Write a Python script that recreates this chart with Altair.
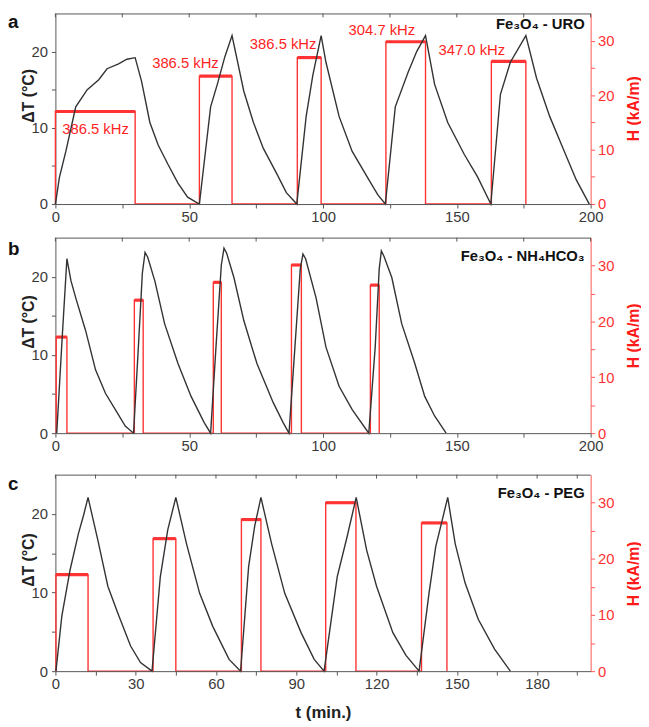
import altair as alt
import pandas as pd

FONT = "Liberation Sans"
GREY = "#555555"
LBL = "#3a3a3a"
RED = "#ff3333"
DARK = "#333333"

# ---------------- Panel a : Fe3O4 - URO ----------------
a_t = [0, 1.5, 3.9, 7.6, 11.9, 16.2, 19.3, 23.6, 26.7, 29.8, 32.2, 35.3, 38.4, 42.0, 45.8, 49.4, 53.8,
       58.0, 60.5, 63.3, 66.0, 70.4, 74.0, 77.7, 82.7, 86.3, 90.2,
       93.7, 96.2, 99.3, 101.1, 106.0, 110.9, 117.1, 120.5, 123.3,
       127.0, 131.8, 135.0, 138.3, 141.7, 146.6, 152.8, 157.7, 162.7,
       166.3, 170.0, 175.8, 179.8, 184.7, 189.7, 194.6, 199.5]
a_dT = [0, 3.5, 6.9, 12.75, 15.0, 16.3, 17.75, 18.4, 19.0, 19.2, 16.1, 10.7, 7.75, 5.25, 2.75, 0.9, 0,
        12.75, 15.7, 19.3, 22.1, 14.8, 10.7, 7.3, 4.0, 1.5, 0,
        11.5, 16.9, 22.1, 18.6, 11.5, 6.9, 3.2, 1.2, 0,
        12.75, 17.3, 20.0, 22.1, 15.7, 10.7, 6.5, 3.6, 0,
        14.4, 18.6, 22.1, 16.5, 11.5, 7.3, 3.2, 0]
a_on = [0, 53.8, 90.4, 123.5, 162.9]
a_off = [29.8, 66.0, 99.3, 138.3, 175.8]
a_H = [17.0, 23.5, 26.9, 29.8, 26.2]
a_freq = ["386.5 kHz", "386.5 kHz", "386.5 kHz", "304.7 kHz", "347.0 kHz"]
a_freq_t = [15.0, 48.6, 85.1, 122.0, 155.6]
a_freq_H = [13.8, 25.9, 29.3, 31.9, 28.2]

# ---------------- Panel b : Fe3O4 - NH4HCO3 ----------------
b_t = [0.5, 2.5, 4.3, 5.8, 7.6, 11.3, 15.0, 18.7, 22.4, 26.1, 29.2,
       31.0, 32.5, 33.5, 34.5, 37.2, 40.8, 45.8, 50.7, 55.6, 58.0,
       60.0, 62.0, 63.0, 64.0, 66.7, 70.4, 75.3, 81.4, 85.1, 87.3,
       89.5, 91.5, 92.5, 93.5, 97.4, 101.1, 106.0, 110.9, 117.1,
       119.5, 121.0, 121.8, 122.8, 125.7, 129.4, 134.3, 138.0, 141.7, 146.0]
b_dT = [0, 12, 22.3, 19.5, 17.3, 13.1, 8.1, 5.1, 3.0, 0.9, 0,
        11, 20.5, 23.1, 22.5, 19.4, 14.0, 8.9, 4.7, 1.35, 0,
        11, 21.5, 23.65, 23.0, 19.9, 14.4, 8.9, 3.9, 1.35, 0,
        11, 21, 22.9, 22.3, 17.3, 11.0, 6.0, 3.0, 0,
        11, 21, 23.3, 22.6, 19.9, 14.0, 8.9, 4.7, 2.2, 0]
b_on = [0.3, 29.5, 59.0, 88.2, 117.7]
b_off = [4.3, 32.8, 62.0, 91.9, 121.0]
b_H = [17.2, 23.8, 27.0, 30.1, 26.5]

# ---------------- Panel c : Fe3O4 - PEG ----------------
c_t = [0.2, 2.4, 5.5, 8.6, 10.5, 12.2, 15.9, 19.6, 23.3, 28.1, 31.8, 36.1,
       39.2, 42.0, 45.0, 49.0, 53.9, 58.8, 64.9, 69.2,
       72.2, 74.5, 76.8, 80.8, 85.7, 91.8, 96.7, 100.4,
       105.3, 109.0, 112.4, 116.3, 120.0, 126.1, 131.0, 135.9,
       139.6, 142.1, 146.6, 149.4, 153.1, 158.0, 164.1, 170.0]
c_dT = [0, 7, 12.9, 17.5, 19.8, 22.1, 16.6, 10.8, 7.4, 3.2, 1.1, 0,
        12, 18, 22.1, 16.2, 9.9, 5.7, 1.5, 0,
        13.3, 18.5, 22.1, 16.2, 9.9, 4.9, 1.5, 0,
        12, 17.1, 22.1, 15.4, 10.8, 4.9, 2.0, 0,
        9.9, 15.8, 22.1, 16.2, 11.2, 6.6, 2.8, 0]
c_on = [0.2, 36.5, 69.5, 101.0, 136.8]
c_off = [12.2, 45.0, 76.8, 112.3, 146.3]
c_H = [17.2, 23.6, 27.0, 30.0, 26.4]

titles = ["Fe\u2083O\u2084 - URO", "Fe\u2083O\u2084 - NH\u2084HCO\u2083", "Fe\u2083O\u2084 - PEG"]
letters = ["a", "b", "c"]

W = 542


def panel(t, dT, on, off, lvl, title, letter, title_y, letter_y, major, minor_step,
          height, freq=None, xtitle=None):
    T = pd.DataFrame({"t": t, "dT": dT, "i": list(range(len(t)))})
    ht, hv = [], []
    for s, e, l in zip(on, off, lvl):
        ht += [s, s, e, e]
        hv += [0, l, l, 0]
    H = pd.DataFrame({"t": ht, "H": hv, "i": list(range(len(ht)))})
    P = pd.DataFrame({"on": on, "off": off, "H": lvl})
    ticks = pd.DataFrame({"t": list(range(0, 201, minor_step))})

    xs = alt.Scale(domain=[0, 200], nice=False, zero=False)
    ysT = alt.Scale(domain=[0, 25], nice=False)
    ysH = alt.Scale(domain=[0, 35], nice=False)

    xaxis_kw = dict(values=list(range(0, 201, minor_step)),
                    labelExpr=f"datum.value % {major} === 0 ? datum.label : ''",
                    labelFlush=False, labelFont=FONT, labelFontSize=15, labelColor=LBL,
                    tickSize=4, tickColor=GREY, domainColor=GREY, labelPadding=2,
                    grid=False, zindex=1)
    if xtitle:
        xaxis_kw.update(title=xtitle, titleFont=FONT, titleFontSize=17, titleFontWeight="bold",
                        titleColor="#222222", titlePadding=13)
    else:
        xaxis_kw.update(title="")
    xaxis = alt.Axis(**xaxis_kw)

    taxis = alt.Axis(values=[0, 5, 10, 15, 20],
                     labelExpr="datum.value % 10 === 0 ? datum.label : ''",
                     labelFont=FONT, labelFontSize=15, labelColor=LBL, tickSize=4,
                     tickColor=GREY, domainColor=GREY, labelPadding=4, grid=False,
                     title="\u0394T (\u00b0C)", titleFont=FONT, titleFontSize=16,
                     titleFontWeight="bold", titleColor="#222222", titleX=-19,
                     titleAlign="center", titleY=round(height * 0.47 - 8))
    haxis = alt.Axis(orient="right", values=[0, 5, 10, 15, 20, 25, 30],
                     labelExpr="datum.value % 10 === 0 ? datum.label : ''",
                     labelFont=FONT, labelFontSize=15, labelColor=RED, tickSize=4,
                     tickColor="#ff5555", domainColor="#ff5555", labelPadding=3, grid=False,
                     title="H (kA/m)", titleFont=FONT, titleFontSize=16,
                     titleFontWeight="bold", titleColor="#ff1a1a", titleAngle=270,
                     titleBaseline="top", titleX=35, titleAlign="center",
                     titleY=round(height * 0.5))

    X = lambda f: alt.X(f, scale=xs, axis=xaxis)

    hline = alt.Chart(H).mark_line(color=RED, strokeWidth=1.4).encode(
        x=X("t:Q"), y=alt.Y("H:Q", scale=ysH, axis=haxis), order="i:Q")
    plat = alt.Chart(P).mark_rule(color=RED, strokeWidth=3.2).encode(
        x=X("on:Q"), x2="off:Q", y=alt.Y("H:Q", scale=ysH, axis=None))
    layers = [hline, plat]
    if freq is not None:
        F = pd.DataFrame({"t": freq[0], "H": freq[1], "s": freq[2]})
        layers.append(alt.Chart(F).mark_text(font=FONT, fontSize=15, color="#ff1f1f").encode(
            x=X("t:Q"), y=alt.Y("H:Q", scale=ysH, axis=None), text="s:N"))
    tline = alt.Chart(T).mark_line(color=DARK, strokeWidth=1.4).encode(
        x=X("t:Q"), y=alt.Y("dT:Q", scale=ysT, axis=taxis), order="i:Q")
    toptick = alt.Chart(ticks).mark_rule(color=GREY, strokeWidth=1).encode(
        x=X("t:Q"), y=alt.value(0), y2=alt.value(4))
    frame = alt.Chart(pd.DataFrame({"z": [0]})).mark_rule(color=GREY, strokeWidth=1).encode(
        x=alt.value(0), x2=alt.value(W), y=alt.value(0.5))
    let = alt.Chart(pd.DataFrame({"s": [letter]})).mark_text(
        font=FONT, fontSize=19, fontWeight="bold", color="#111111", align="left",
        baseline="top").encode(x=alt.value(-48), y=alt.value(letter_y), text="s:N")
    tit = alt.Chart(pd.DataFrame({"s": [title]})).mark_text(
        font=FONT, fontSize=15, fontWeight="bold", color="#111111", align="right",
        baseline="middle").encode(x=alt.value(536), y=alt.value(title_y), text="s:N")
    layers += [tline, toptick, frame, let, tit]
    return alt.layer(*layers).resolve_scale(y="independent").properties(
        width=W, height=height)


pa = panel(a_t, a_dT, a_on, a_off, a_H, titles[0], letters[0], 11, 0, 50, 25, 193,
           freq=(a_freq_t, a_freq_H, a_freq))
pb = panel(b_t, b_dT, b_on, b_off, b_H, titles[1], letters[1], 19, 3, 50, 25, 198)
pc = panel(c_t, c_dT, c_on, c_off, c_H, titles[2], letters[2], 19, 1, 30, 15, 199,
           xtitle="t (min.)")

chart = alt.vconcat(alt.vconcat(pa, pb, spacing=12), pc, spacing=20).properties(
    padding=0).configure(font=FONT).configure_view(stroke=None)

chart.save("out.html", embed_options={"renderer": "svg", "actions": False})
